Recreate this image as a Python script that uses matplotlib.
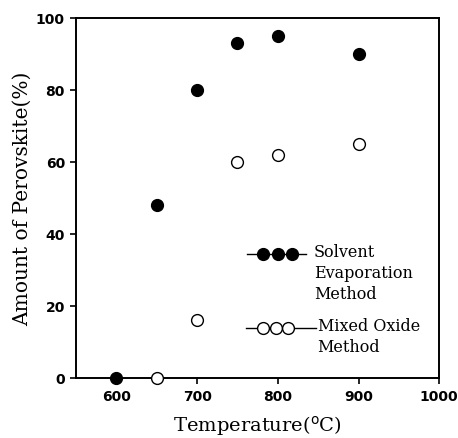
import numpy as np
from matplotlib import pyplot as plt

# data
temp_solvent = [600, 650, 700, 750, 800, 900]
amt_solvent = [0, 48, 80, 93, 95, 90]
temp_mixed = [650, 700, 750, 800, 900]
amt_mixed = [0, 16, 60, 62, 65]

xticks = [600, 700, 800, 900, 1000]
yticks = [0, 20, 40, 60, 80, 100]

serif = ['DejaVu Serif']

fig = plt.figure(figsize=(4.58, 4.39), dpi=100)
ax = fig.add_axes([0.166, 0.137, 0.793, 0.820])

ax.plot(temp_solvent, amt_solvent, 'o', color='black', ms=8.5, clip_on=False, zorder=5)
ax.plot(temp_mixed, amt_mixed, 'o', mfc='white', mec='black', mew=1.0, ms=8.5,
        clip_on=False, zorder=5)

ax.set_xlim(550, 1000)
ax.set_ylim(0, 100)
ax.set_xticks(xticks)
ax.set_yticks(yticks)
ax.tick_params(direction='out', length=4, width=1.2, labelsize=10, pad=4)
ax.tick_params(top=False, right=False)
for lab in ax.get_xticklabels() + ax.get_yticklabels():
    lab.set_fontweight('bold')
for sp in ax.spines.values():
    sp.set_linewidth(1.4)

ax.set_xlabel('Temperature($^{\\mathrm{o}}$C)', family=serif, fontsize=14, labelpad=7)
ax.set_ylabel('Amount of Perovskite(%)', family=serif, fontsize=14.5, labelpad=3)

# hand-made legend
ax.plot([0.471, 0.634], [0.344, 0.344], '-', color='black', lw=1, transform=ax.transAxes)
ax.plot([0.515, 0.555, 0.595], [0.344] * 3, 'o', color='black', ms=8.5,
        transform=ax.transAxes)
ax.text(0.655, 0.375, 'Solvent\nEvaporation\nMethod', transform=ax.transAxes,
        family=serif, fontsize=11.5, va='top', linespacing=1.3)
ax.plot([0.467, 0.660], [0.139, 0.139], '-', color='black', lw=1, transform=ax.transAxes)
ax.plot([0.515, 0.550, 0.585], [0.139] * 3, 'o', mfc='white', mec='black', ms=8.5,
        transform=ax.transAxes)
ax.text(0.665, 0.170, 'Mixed Oxide\nMethod', transform=ax.transAxes,
        family=serif, fontsize=11.5, va='top', linespacing=1.3)

fig.savefig('out.png', dpi=100)
